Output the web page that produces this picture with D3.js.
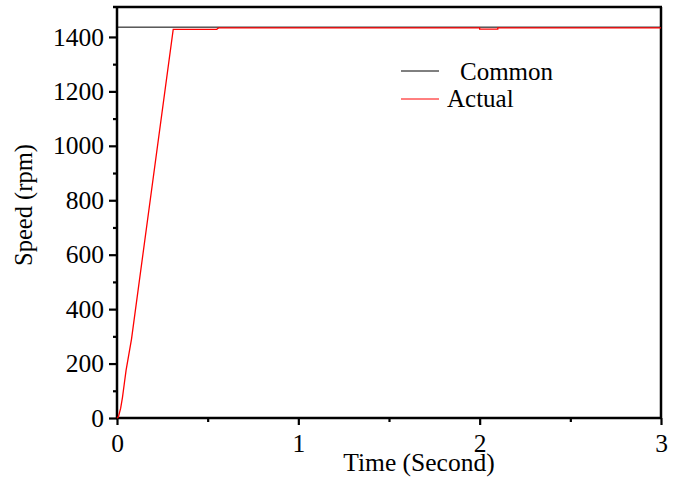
<!DOCTYPE html>
<html>
<head>
<meta charset="utf-8">
<script src="https://cdn.jsdelivr.net/npm/d3@7"></script>
<style>
  body { margin: 0; background: white; }
  text { font-family: "Liberation Serif", "Times New Roman", serif; }
</style>
</head>
<body>
<svg width="678" height="479"></svg>
<script>
// speed reference (black) and measured speed (red)
const commonTime = [0, 3]
const commonSpeed = [1436, 1436]

const actualTime = [0, 0.005, 0.01, 0.02, 0.03, 0.04, 0.05, 0.08, 0.31, 0.55, 0.56, 2.0, 2.0, 2.1, 2.1, 3]
const actualSpeed = [0, 2, 10, 35, 75, 125, 175, 290, 1428, 1428, 1433, 1433, 1429, 1429, 1433, 1433]

const xTicks = [0, 1, 2, 3]
const xMinor = [0.5, 1.5, 2.5]
const yTicks = [0, 200, 400, 600, 800, 1000, 1200, 1400]
const yMinor = [100, 300, 500, 700, 900, 1100, 1300]

const svg = d3.select('svg')
const plotLeft = 117, plotRight = 661, plotTop = 7, plotBottom = 418

const x = d3.scaleLinear().domain([0, 3]).range([plotLeft, plotRight])
const y = d3.scaleLinear().domain([0, 1510]).range([plotBottom, plotTop])

// frame top and right
svg.append('line')
  .attr('x1', plotLeft - 4).attr('x2', plotRight + 1)
  .attr('y1', plotTop).attr('y2', plotTop)
  .attr('stroke', 'black').attr('stroke-width', 2.5)
svg.append('line')
  .attr('x1', plotRight).attr('x2', plotRight)
  .attr('y1', plotTop).attr('y2', plotBottom)
  .attr('stroke', 'black').attr('stroke-width', 2.5)

// x axis
const xAxis = svg.append('g')
  .attr('transform', `translate(0,${plotBottom})`)
  .call(d3.axisBottom(x).tickValues(xTicks).tickFormat(d3.format('d')).tickSize(7).tickPadding(9))
xAxis.append('g')
  .call(d3.axisBottom(x).tickValues(xMinor).tickFormat('').tickSize(4))
xAxis.selectAll('.domain').remove()
svg.append('line')
  .attr('x1', plotLeft - 1).attr('x2', plotRight + 1)
  .attr('y1', plotBottom).attr('y2', plotBottom)
  .attr('stroke', 'black').attr('stroke-width', 2.5)

// y axis
const yAxis = svg.append('g')
  .attr('transform', `translate(${plotLeft},0)`)
  .call(d3.axisLeft(y).tickValues(yTicks).tickFormat(d3.format('d')).tickSize(8).tickPadding(5))
yAxis.append('g')
  .call(d3.axisLeft(y).tickValues(yMinor).tickFormat('').tickSize(4))
yAxis.selectAll('.domain').remove()
svg.append('line')
  .attr('x1', plotLeft).attr('x2', plotLeft)
  .attr('y1', plotTop - 1).attr('y2', plotBottom + 1)
  .attr('stroke', 'black').attr('stroke-width', 2.5)

svg.selectAll('.tick line').attr('stroke-width', 2.2)
svg.selectAll('.tick text')
  .attr('font-size', 25.5)
  .attr('font-family', '"Liberation Serif", serif')
  .attr('fill', 'black')

// axis titles
svg.append('text')
  .attr('x', 419).attr('y', 471)
  .attr('text-anchor', 'middle')
  .attr('font-size', 25.5)
  .text('Time (Second)')
svg.append('text')
  .attr('transform', 'translate(32,205) rotate(-90)')
  .attr('text-anchor', 'middle')
  .attr('font-size', 24.5)
  .text('Speed (rpm)')

// lines
const line = d3.line().x(d => x(d[0])).y(d => y(d[1]))
svg.append('path')
  .datum(d3.zip(commonTime, commonSpeed))
  .attr('d', line)
  .attr('fill', 'none').attr('stroke', 'black').attr('stroke-width', 1)
svg.append('path')
  .datum(d3.zip(actualTime, actualSpeed))
  .attr('d', line)
  .attr('fill', 'none').attr('stroke', 'red').attr('stroke-width', 1.3)

// legend
const legend = svg.append('g')
legend.append('line')
  .attr('x1', 401).attr('x2', 439).attr('y1', 71).attr('y2', 71)
  .attr('stroke', 'black')
legend.append('text')
  .attr('x', 460).attr('y', 80).attr('font-size', 25).text('Common')
legend.append('line')
  .attr('x1', 401).attr('x2', 439).attr('y1', 99).attr('y2', 99)
  .attr('stroke', 'red')
legend.append('text')
  .attr('x', 447).attr('y', 107).attr('font-size', 25).text('Actual')
</script>
</body>
</html>
